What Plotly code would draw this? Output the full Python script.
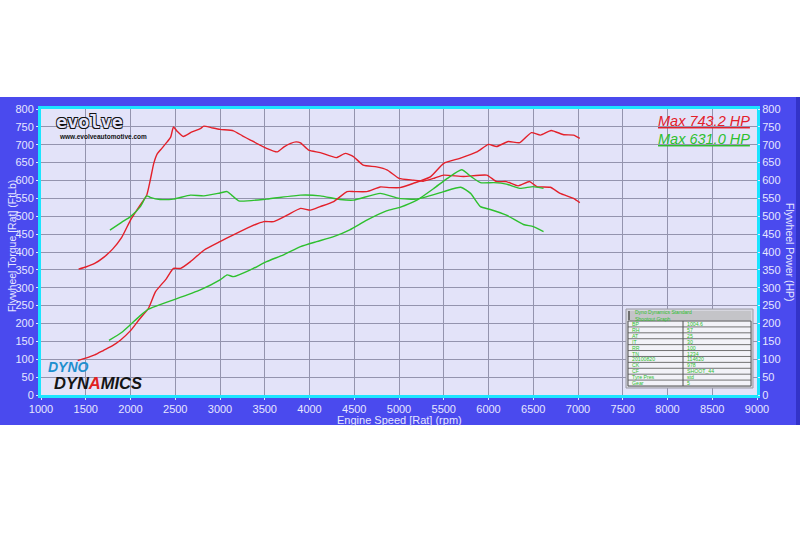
import plotly.graph_objects as go

# ---------------- data ----------------
red_torque_rpm = [1420, 1500, 1600, 1700, 1800, 1900, 2000, 2100, 2180, 2220, 2260, 2300, 2350, 2410, 2450,
                  2480, 2520, 2590, 2680, 2780, 2820, 2900, 3000, 3150, 3250, 3340, 3520, 3640, 3720, 3790,
                  3850, 3900, 3990, 4120, 4300, 4400, 4490, 4600, 4750, 4870, 5000, 5160, 5270, 5400, 5500,
                  5720, 5980, 6090, 6200, 6330, 6460, 6540, 6690, 6800, 6950, 7020]
red_torque = [352, 358, 368, 385, 408, 440, 489, 528, 558, 600, 648, 675, 690, 708, 722,
              750, 738, 723, 735, 745, 752, 748, 743, 739, 725, 713, 690, 680, 695, 704,
              708, 705, 685, 678, 664, 676, 667, 643, 638, 629, 606, 601, 598, 607, 615,
              611, 615, 597, 597, 585, 597, 583, 581, 564, 550, 538]

red_power_rpm = [1410, 1500, 1600, 1700, 1800, 1890, 2000, 2100, 2200, 2280, 2400, 2480, 2560, 2670, 2820,
                 3000, 3150, 3340, 3490, 3600, 3750, 3900, 4010, 4120, 4270, 4420, 4500, 4640, 4790, 4900,
                 5010, 5160, 5350, 5500, 5680, 5870, 6000, 6090, 6220, 6350, 6480, 6580, 6700, 6840, 6950, 7020]
red_power = [96, 103, 112, 125, 138, 154, 180, 212, 242, 289, 325, 354, 354, 373, 405,
             429, 448, 471, 485, 485, 503, 522, 517, 527, 541, 569, 569, 569, 582, 580,
             580, 592, 610, 648, 662, 680, 701, 695, 709, 706, 734, 727, 740, 728, 727, 718]

green_torque_rpm = [1770, 1900, 2000, 2110, 2180, 2220, 2330, 2480, 2670, 2820, 3000, 3080, 3130, 3210, 3520,
                    3900, 4120, 4340, 4490, 4790, 5000, 5200, 5500, 5690, 5800, 5910, 6020, 6200, 6390, 6500, 6615]
green_torque = [461, 483, 499, 527, 557, 553, 547, 548, 559, 557, 565, 569, 559, 543, 548,
                559, 557, 547, 545, 564, 550, 548, 569, 581, 564, 527, 519, 503, 477, 471, 457]

green_power_rpm = [1760, 1900, 2000, 2100, 2200, 2300, 2480, 2780, 3000, 3080, 3150, 3340, 3520, 3710, 3900,
                   4080, 4270, 4450, 4640, 4860, 5010, 5200, 5390, 5540, 5700, 5810, 5910, 6060, 6200, 6350,
                   6500, 6615]
green_power = [153, 175, 197, 220, 240, 250, 266, 294, 322, 336, 331, 350, 373, 392, 415,
               429, 443, 462, 489, 515, 525, 545, 578, 606, 630, 610, 594, 594, 590, 578,
               583, 578]

legend_texts = ["Max 743.2 HP", "Max 631.0 HP"]
table_title = "Dyno Dynamics Standard<br>Shootout Graph"
table_labels = ["BP", "RH", "AT", "IT", "RR", "TN", "20100820", "CK", "CF", "Tyre Pres", "Gear"]
table_values = ["1004.6", "57", "25", "30", "100", "1234", "114620", "978", "SHOOT_44", "std", "5"]

# ---------------- styling ----------------
RED = "#E3202A"
GREEN = "#2EC02E"
PANEL = "#4A4AEE"
PLOTBG = "#E3E3F9"
GRID = "#9494AE"
CYAN = "#1CE4FF"
TXT = "#E6E6FF"
FONT = "Liberation Sans"

W, H = 800, 533
L, R, T, B = 41, 43, 109, 138
PW, PH = W - L - R, H - T - B


def px(p):
    return (p - L) / PW


def py(p):
    return (H - B - p) / PH


def note(text, x, y, size, color, xanchor="center", yanchor="middle", family=FONT, **kw):
    f = dict(family=family, size=size, color=color)
    f.update(kw.pop("fontextra", {}))
    return dict(text=text, xref="paper", yref="paper", x=px(x), y=py(y), xanchor=xanchor,
                yanchor=yanchor, showarrow=False, font=f, **kw)


fig = go.Figure()
line_w = 1.4
for xs, ys, col, ax in [(red_torque_rpm, red_torque, RED, "y"), (red_power_rpm, red_power, RED, "y2"),
                        (green_torque_rpm, green_torque, GREEN, "y"),
                        (green_power_rpm, green_power, GREEN, "y2")]:
    fig.add_trace(go.Scatter(x=xs, y=ys, mode="lines",
                             line=dict(color=col, width=line_w, shape="spline", smoothing=0.5),
                             yaxis=ax, showlegend=False, hoverinfo="skip"))

axis_common = dict(showgrid=True, gridcolor=GRID, gridwidth=1, zeroline=False,
                   ticks="outside", ticklen=2, tickcolor=TXT,
                   tickfont=dict(family=FONT, size=11, color=TXT),
                   showline=True, linecolor=CYAN, linewidth=3, mirror=True)

shapes = []
# white outside the blue panel
shapes.append(dict(type="rect", xref="paper", yref="paper", x0=px(-20), x1=px(W + 20),
                   y0=py(97), y1=py(-20), fillcolor="white", line=dict(width=0), layer="above"))
shapes.append(dict(type="rect", xref="paper", yref="paper", x0=px(-20), x1=px(W + 20),
                   y0=py(H + 20), y1=py(425), fillcolor="white", line=dict(width=0), layer="above"))
# darker right edge of panel
shapes.append(dict(type="rect", xref="paper", yref="paper", x0=px(796), x1=px(W + 5),
                   y0=py(425), y1=py(97), fillcolor="#3333C8", line=dict(width=0), layer="above"))

annotations = []
# axis titles
annotations.append(note("Flywheel Torque [Rat] (FtLb)", 12, 246, 10.5, TXT, textangle=-90))
annotations.append(note("Flywheel Power (HP)", 790, 252, 10.5, TXT, textangle=90))
annotations.append(note("Engine Speed [Rat] (rpm)", 399, 420, 11, TXT))

# max legend
for i, (t, c) in enumerate(zip(legend_texts, [RED, GREEN])):
    annotations.append(note("<i>" + t + "</i>", 752, 121 + i * 18, 14.5, c, xanchor="right",
                            fontextra=dict(lineposition="under")))

# evolve logo
annotations.append(note("<b>evolve</b>", 54, 121.5, 18.5, PLOTBG, xanchor="left", family="DejaVu Sans Mono",
                        fontextra=dict(shadow="0.8px 0.8px 0 #111, -0.8px -0.8px 0 #111, 0.8px -0.8px 0 #111, -0.8px 0.8px 0 #111")))
annotations.append(note("<b>www.evolveautomotive.com</b>", 57, 136, 6.5, "#111111", xanchor="left"))

# dyno dynamics logo
annotations.append(note("<b><i>DYNO</i></b>", 46, 367, 14, "#1F8FCF", xanchor="left"))
annotations.append(note("<b><i>DYN<span style='color:#E02020'>A</span>MICS</i></b>", 52, 383, 16.5,
                        "#151515", xanchor="left"))

# info table
tx0, tx1, ty0, ty1 = 626, 753, 309, 388
shapes.append(dict(type="rect", xref="paper", yref="paper", x0=px(tx0), x1=px(tx1),
                   y0=py(ty1), y1=py(ty0), fillcolor="#D6D6DE", line=dict(color="#9A9AA4", width=1),
                   layer="above"))
shapes.append(dict(type="rect", xref="paper", yref="paper", x0=px(628), x1=px(751),
                   y0=py(320), y1=py(311), fillcolor="#C4C4C8", line=dict(width=0), layer="above"))
shapes.append(dict(type="rect", xref="paper", yref="paper", x0=px(628), x1=px(630),
                   y0=py(320), y1=py(311), fillcolor="#707070", line=dict(width=0), layer="above"))
annotations.append(note(table_title, 633, 315.5, 5, GREEN, xanchor="left", align="left"))
row_top, row_bot = 321, 386
n = len(table_labels)
rh = (row_bot - row_top) / n
col_mid = 683
shapes.append(dict(type="rect", xref="paper", yref="paper", x0=px(628), x1=px(751),
                   y0=py(row_bot), y1=py(row_top), fillcolor="#F2F2F8", line=dict(color="#505050", width=1),
                   layer="above"))
shapes.append(dict(type="line", xref="paper", yref="paper", x0=px(col_mid), x1=px(col_mid),
                   y0=py(row_bot), y1=py(row_top), line=dict(color="#505050", width=1), layer="above"))
for i, (lab, val) in enumerate(zip(table_labels, table_values)):
    yc = row_top + rh * (i + 0.5)
    if i > 0:
        yl = row_top + rh * i
        shapes.append(dict(type="line", xref="paper", yref="paper", x0=px(628), x1=px(751),
                           y0=py(yl), y1=py(yl), line=dict(color="#505050", width=0.8), layer="above"))
    annotations.append(note(lab, 629.5, yc, 5.2, GREEN, xanchor="left"))
    annotations.append(note(val, 685, yc, 5.2, GREEN, xanchor="left"))

fig.update_layout(
    width=W, height=H,
    margin=dict(l=L, r=R, t=T, b=B, pad=0),
    paper_bgcolor=PANEL, plot_bgcolor=PLOTBG,
    xaxis=dict(range=[1000, 9000], tick0=1000, dtick=500, **axis_common),
    yaxis=dict(range=[0, 800], tick0=0, dtick=50, **axis_common),
    yaxis2=dict(range=[0, 800], tick0=0, dtick=50, overlaying="y", side="right",
                showgrid=False, zeroline=False, ticks="outside", ticklen=2, tickcolor=TXT,
                tickfont=dict(family=FONT, size=11, color=TXT)),
    shapes=shapes, annotations=annotations, showlegend=False,
)

fig.write_html("out.html", config={"displayModeBar": False},
               post_script="document.body.style.margin='0px';document.body.style.padding='0px';")
